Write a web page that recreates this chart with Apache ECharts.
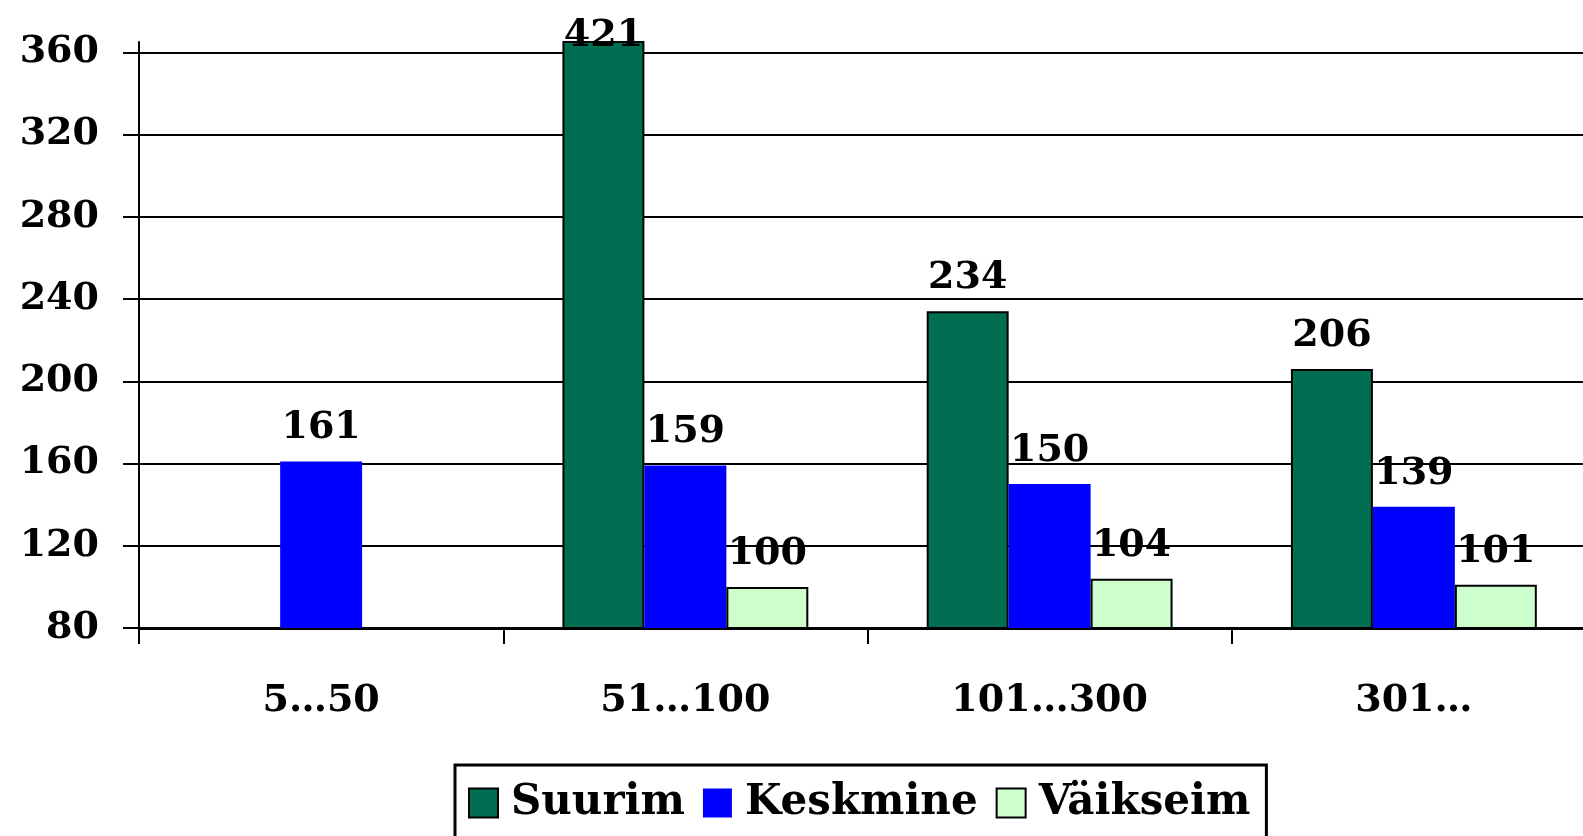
<!DOCTYPE html>
<html>
<head>
<meta charset="utf-8">
<title>Suurim / Keskmine / Väikseim</title>
<script src="https://cdn.jsdelivr.net/npm/echarts@6/dist/echarts.min.js"></script>
<style>
  html, body { margin: 0; padding: 0; background: #fff; }
  #main { width: 1583px; height: 836px; }
</style>
</head>
<body>
<div id="main"></div>
<script>
  // andmed
  var categories = ['5…50', '51…100', '101…300', '301…'];
  var suurim = [null, 421, 234, 206];
  var keskmine = [161, 159, 150, 139];
  var vaikseim = [null, 100, 104, 101];
  var yMin = 80, yMax = 365, yStep = 40;

  var font = '"DejaVu Serif", "Liberation Serif", serif';

  // silt, mis on telje ülemisest piirist kõrgem, läheb tulba peale
  function withLabels(values) {
    return values.map(function (v) {
      if (v != null && v > yMax) {
        return { value: v, label: { distance: -14 } };
      }
      return v;
    });
  }

  var labelStyle = {
    show: true,
    position: 'top',
    distance: 14,
    color: '#000',
    fontFamily: font,
    fontWeight: 'bold',
    fontSize: 38
  };

  var chart = echarts.init(document.getElementById('main'));
  chart.setOption({
    animation: false,
    // joonis läheb paremalt servast veidi välja
    grid: { left: 139, width: 1457, top: 42, bottom: 208, outerBoundsMode: 'none' },
    legend: {
      left: 455,
      top: 765,
      padding: [17, 16, 40, 13],
      borderColor: '#000',
      borderWidth: 3,
      icon: 'rect',
      itemWidth: 29,
      itemHeight: 29,
      itemGap: 18,
      itemStyle: { borderColor: '#000', borderWidth: 2 },
      textStyle: {
        color: '#000',
        fontFamily: font,
        fontWeight: 'bold',
        fontSize: 42,
        padding: [0, 0, 0, 8]
      },
      data: [
        { name: 'Suurim' },
        { name: 'Keskmine', itemStyle: { borderWidth: 0 } },
        { name: 'Väikseim' }
      ]
    },
    xAxis: {
      type: 'category',
      data: categories,
      axisLine: { lineStyle: { color: '#000', width: 3 } },
      axisTick: {
        show: true,
        interval: 0,
        alignWithLabel: false,
        length: 16,
        lineStyle: { color: '#000', width: 2 }
      },
      axisLabel: {
        margin: 54,
        color: '#000',
        fontFamily: font,
        fontWeight: 'bold',
        fontSize: 38
      }
    },
    yAxis: {
      type: 'value',
      min: yMin,
      max: yMax,
      interval: yStep,
      axisLine: { show: true, lineStyle: { color: '#000', width: 2 } },
      axisTick: { show: true, length: 16, lineStyle: { color: '#000', width: 2 } },
      axisLabel: {
        showMaxLabel: false,
        margin: 40,
        color: '#000',
        fontFamily: font,
        fontWeight: 'bold',
        fontSize: 38
      },
      splitLine: { showMaxLine: false, lineStyle: { color: '#000', width: 2 } }
    },
    series: [
      {
        name: 'Suurim',
        type: 'bar',
        data: withLabels(suurim),
        barGap: '0%',
        barCategoryGap: '32.5%',
        itemStyle: { color: '#006E50', borderColor: '#000', borderWidth: 2 },
        label: labelStyle
      },
      {
        name: 'Keskmine',
        type: 'bar',
        data: withLabels(keskmine),
        itemStyle: { color: '#0000FF' },
        label: labelStyle
      },
      {
        name: 'Väikseim',
        type: 'bar',
        data: withLabels(vaikseim),
        itemStyle: { color: '#CCFFCC', borderColor: '#000', borderWidth: 2 },
        label: labelStyle
      }
    ]
  });
</script>
</body>
</html>
